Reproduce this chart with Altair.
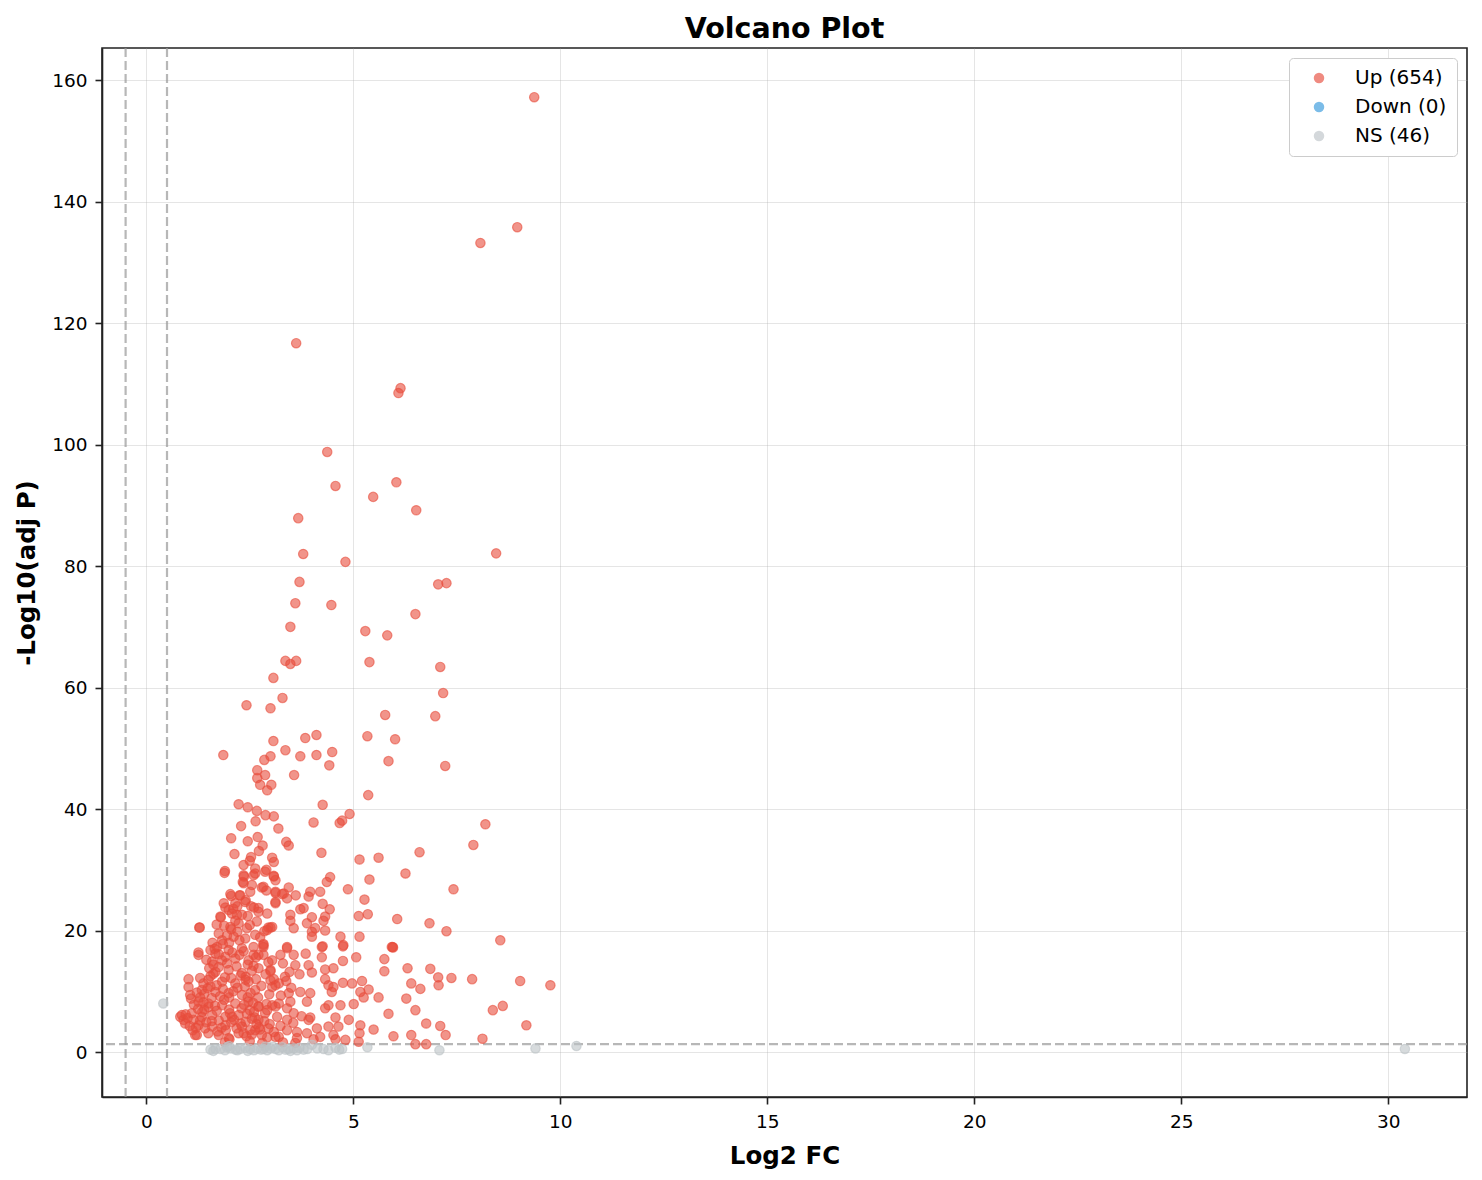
"""Volcano plot: log2 fold change against -log10 adjusted p-value."""

import altair as alt
import pandas as pd

# (log2 FC, -log10 adj P)
up_sparse = [
    (9.37, 157.2), (8.96, 135.8), (8.07, 133.2), (3.62, 116.7), (6.14, 109.3),
    (6.09, 108.5), (4.37, 98.8), (6.04, 93.8), (4.57, 93.2), (5.48, 91.4),
    (6.52, 89.2), (3.67, 87.9), (8.45, 82.1), (3.79, 82.0), (4.81, 80.7),
    (3.70, 77.4), (7.25, 77.2), (7.05, 77.0), (3.60, 73.9), (4.47, 73.6),
    (6.50, 72.1), (3.48, 70.0), (5.29, 69.3), (5.82, 68.6), (3.36, 64.4),
    (3.62, 64.4), (3.48, 63.9), (5.39, 64.2), (7.10, 63.4), (3.07, 61.6),
    (7.17, 59.1), (3.29, 58.3), (2.42, 57.1), (3.00, 56.6), (5.77, 55.5),
    (6.98, 55.3), (4.11, 52.2), (3.84, 51.7), (5.34, 52.0), (6.01, 51.5),
    (3.07, 51.2), (3.36, 49.7), (4.49, 49.4), (4.11, 48.9), (1.86, 48.9),
    (3.72, 48.7), (3.00, 48.7), (5.85, 47.9), (2.85, 48.1), (7.22, 47.1),
    (4.42, 47.2), (2.68, 46.4), (3.57, 45.6), (2.87, 45.6), (2.68, 45.1),
    (2.75, 44.0), (3.02, 44.0), (2.92, 43.1), (5.36, 42.3),
]

up_mid = [
    (2.23, 40.8), (2.45, 40.3), (2.67, 39.7), (2.88, 39.0), (3.08, 38.8),
    (4.26, 40.7), (4.91, 39.2), (4.73, 38.1), (4.67, 37.7), (4.04, 37.8),
    (2.29, 37.2), (2.64, 38.0), (3.19, 36.8), (8.19, 37.5), (2.05, 35.2),
    (2.45, 34.7), (2.69, 35.4), (2.81, 34.0), (2.72, 33.1), (3.38, 34.6),
    (3.44, 34.0), (7.90, 34.1), (4.23, 32.8), (6.60, 32.9), (5.15, 31.7),
    (5.61, 32.0), (2.13, 32.6), (2.53, 32.1), (2.50, 31.5), (3.04, 32.0),
    (3.08, 31.3), (1.90, 29.8), (2.35, 30.8), (2.63, 30.2), (2.36, 28.9),
    (2.33, 28.0), (2.59, 29.1), (2.90, 30.0), (3.08, 29.0), (3.12, 28.3),
    (4.36, 28.0), (4.44, 28.8), (5.39, 28.4), (6.26, 29.4), (4.87, 26.8),
    (7.42, 26.8), (2.79, 27.1), (2.90, 26.6), (3.44, 27.1), (3.61, 25.8),
    (3.12, 26.2), (3.28, 26.0), (3.96, 26.4), (3.92, 25.6), (4.20, 26.4),
    (5.27, 25.1), (2.05, 25.7), (2.25, 25.8), (1.91, 23.8), (2.20, 24.0),
    (2.40, 25.0), (2.53, 24.0), (2.71, 23.7), (3.12, 24.7), (3.40, 25.3),
    (3.80, 23.7), (3.72, 23.5), (4.26, 24.4), (4.43, 23.5), (2.92, 22.8),
    (1.80, 22.2), (3.48, 22.6), (3.48, 21.6), (4.00, 22.2), (4.32, 22.3),
    (4.28, 21.6), (5.13, 22.4), (5.35, 22.7), (6.06, 21.9), (6.84, 21.2),
    (7.25, 19.9), (8.55, 18.4), (1.29, 20.5), (2.95, 20.5), (3.04, 20.6),
    (3.56, 20.4), (3.88, 21.2), (4.08, 20.4), (4.00, 19.8), (4.32, 20.0),
    (4.69, 19.0), (5.15, 19.0), (4.76, 17.6), (4.24, 17.3), (4.00, 19.0),
    (5.93, 17.3), (3.40, 17.3), (2.83, 17.8), (5.96, 17.2), (1.89, 29.5),
    (2.35, 29.1), (2.63, 29.4), (2.87, 29.7), (3.08, 28.9), (2.35, 27.8),
    (2.55, 27.5), (2.83, 27.2), (3.12, 26.4), (3.32, 26.1), (2.03, 26.0),
    (2.27, 25.8), (2.51, 26.4), (3.12, 24.5), (1.87, 24.5), (2.15, 24.5),
    (2.39, 24.7), (2.71, 23.1), (1.99, 23.4), (2.19, 22.6),
]

up_low = [
    (1.79, 22.3), (2.07, 22.8), (2.31, 22.6), (2.23, 21.2), (2.03, 20.6),
    (2.43, 20.4), (2.67, 21.5), (1.28, 20.5), (3.00, 20.5), (2.92, 20.1),
    (1.83, 18.4), (2.11, 19.0), (2.39, 18.7), (2.63, 19.3), (1.71, 17.3),
    (1.99, 16.8), (2.31, 17.1), (2.59, 17.3), (2.83, 17.6), (1.26, 16.4),
    (1.67, 16.2), (1.91, 15.7), (2.71, 16.0), (4.26, 17.4), (4.75, 17.4),
    (5.95, 17.3), (4.24, 15.6), (4.75, 15.0), (5.07, 15.6), (5.75, 15.3),
    (5.75, 13.3), (3.92, 14.3), (4.00, 13.1), (4.32, 13.6), (4.52, 13.8),
    (3.00, 13.3), (3.40, 17.1), (3.56, 16.0), (3.60, 14.3), (3.24, 16.0),
    (3.46, 13.2), (2.83, 17.3), (2.83, 16.0), (2.59, 16.0), (2.59, 14.2),
    (6.31, 13.8), (6.86, 13.7), (7.05, 12.3), (7.37, 12.2), (7.87, 12.0),
    (9.03, 11.7), (9.76, 11.0), (6.40, 11.3), (7.06, 11.0), (6.62, 10.4),
    (6.28, 8.8), (6.50, 6.9), (8.37, 6.9), (8.61, 7.6), (6.76, 4.7),
    (7.10, 4.3), (7.23, 2.8), (9.18, 4.4), (5.97, 2.6), (6.40, 2.8),
    (8.12, 2.2), (6.50, 1.3), (6.76, 1.3), (1.26, 16.0), (1.59, 14.9),
    (1.83, 15.1), (2.15, 15.4), (2.47, 15.1), (2.71, 13.8), (3.04, 15.1),
    (3.00, 13.5), (1.67, 13.2), (1.99, 13.5), (2.31, 13.0), (1.50, 11.9),
    (1.83, 11.6), (2.15, 11.3), (2.47, 11.6), (1.02, 10.7), (1.34, 10.2),
    (1.06, 9.4), (1.67, 9.9), (1.99, 9.7), (2.31, 9.4), (2.63, 10.2),
    (3.04, 10.7), (3.20, 11.3), (1.38, 11.3), (3.08, 12.0), (3.38, 11.7),
    (3.12, 11.0), (4.32, 12.0), (4.40, 11.0), (4.52, 10.7), (4.48, 9.9),
    (4.75, 11.4), (4.97, 11.3), (5.21, 11.7), (5.17, 9.9), (5.37, 10.3),
    (5.61, 9.0), (5.25, 9.0), (5.01, 7.9), (4.69, 7.7), (4.40, 7.7),
    (4.32, 7.2), (3.96, 9.7), (3.72, 9.9), (3.88, 8.3), (3.44, 9.7),
    (3.48, 8.3), (3.20, 8.0), (3.40, 7.2), (3.56, 6.4), (3.12, 7.5),
    (2.92, 6.9), (2.71, 7.5), (5.85, 6.3), (5.49, 3.7), (5.17, 4.4),
    (5.15, 3.1), (4.81, 2.0), (5.13, 1.7), (4.89, 5.3), (4.57, 5.7),
    (4.64, 4.2), (4.40, 4.2), (4.12, 3.9), (3.92, 5.3), (3.96, 5.7),
    (4.52, 2.8), (4.57, 2.1), (4.20, 2.5), (4.04, 2.1), (3.88, 3.1),
    (3.64, 3.3), (3.64, 2.3), (3.40, 3.6), (3.40, 5.3), (3.24, 4.3),
    (3.20, 2.5), (2.92, 2.4), (2.75, 3.7), (2.71, 5.3), (2.51, 3.6),
    (2.35, 3.1), (2.01, 2.1), (2.07, 5.8), (2.43, 6.3), (1.22, 2.8),
    (0.82, 5.8), (0.90, 5.3), (1.14, 5.3), (1.26, 8.3), (1.50, 8.0),
    (1.83, 7.7), (2.15, 8.0), (2.47, 8.3), (2.71, 7.5), (3.04, 7.7),
    (0.86, 6.1), (1.10, 6.4), (1.34, 5.8), (1.59, 6.1), (1.91, 5.8),
    (2.23, 6.1), (2.55, 5.5), (2.87, 6.4), (3.16, 5.8), (0.94, 4.7),
    (1.26, 4.4), (1.59, 4.2), (1.91, 4.4), (2.31, 4.2), (2.63, 3.6),
    (2.95, 3.9), (1.18, 2.8), (1.50, 3.1), (1.75, 2.8), (1.99, 2.3),
    (2.23, 3.1), (2.55, 2.9), (2.79, 2.8), (3.12, 2.5), (1.60, 18.0),
    (1.75, 19.5), (2.00, 18.0), (2.20, 19.8), (2.50, 20.9), (2.25, 16.0),
    (1.55, 12.5), (1.75, 14.0), (2.05, 12.2), (2.40, 12.4), (2.65, 12.0),
    (1.40, 7.0), (1.70, 6.8), (2.00, 7.0), (2.30, 7.2), (2.60, 6.6),
    (1.30, 9.0), (1.55, 10.8), (1.85, 10.4), (2.10, 10.0), (2.45, 9.0),
    (1.45, 4.9), (1.75, 5.2), (2.05, 4.9), (2.40, 5.0), (1.00, 5.6),
]

up_dense = [
    (1.45, 15.2), (1.52, 13.8), (1.62, 12.9), (1.70, 11.0), (1.78, 9.2),
    (1.88, 8.6), (1.95, 14.6), (2.08, 16.4), (2.18, 14.1), (2.28, 12.6),
    (2.38, 10.8), (2.52, 9.7), (2.58, 8.1), (2.66, 4.6), (2.78, 10.9),
    (2.88, 12.8), (2.97, 9.5), (1.35, 6.6), (1.42, 3.9), (1.58, 5.1),
    (1.66, 7.6), (1.72, 3.4), (1.82, 4.0), (1.92, 3.6), (2.02, 6.4),
    (2.12, 5.3), (2.18, 3.9), (2.28, 4.7), (2.36, 7.8), (2.42, 2.6),
    (2.50, 6.9), (2.62, 5.7), (2.72, 4.1), (2.85, 5.1), (2.98, 4.6),
    (3.08, 3.3), (1.20, 4.0), (1.30, 5.2), (1.12, 3.6), (0.95, 6.2),
    (1.05, 4.3), (1.25, 7.1), (1.40, 9.6), (1.48, 10.5), (1.58, 8.9),
    (1.65, 17.0), (1.75, 16.1), (1.85, 17.8), (1.95, 19.2), (2.05, 20.2),
    (2.15, 21.6), (2.25, 18.4), (2.35, 16.6), (2.45, 14.4), (2.55, 13.4),
    (2.65, 15.6), (2.75, 18.9), (2.85, 19.9), (2.95, 14.8), (1.70, 21.0),
    (1.88, 20.8), (2.10, 23.6), (2.45, 22.4), (2.60, 23.8), (1.55, 16.8),
    (1.62, 14.4), (1.50, 7.4), (1.38, 8.2), (1.30, 12.2), (1.22, 9.8),
    (1.15, 7.8), (1.08, 8.8), (1.02, 12.0), (3.25, 9.3), (3.35, 12.4),
    (3.50, 10.6), (3.30, 14.6), (3.55, 4.8), (3.75, 5.9), (3.70, 12.8),
    (3.85, 16.2), (2.00, 9.0), (2.20, 10.6), (2.40, 11.9), (1.90, 12.3),
    (2.70, 9.0), (2.90, 7.9), (3.00, 11.8), (2.50, 1.8), (2.80, 1.5),
    (3.30, 1.6), (1.90, 1.6), (3.60, 1.5),
]

ns_points = [
    (0.41, 8.0), (30.4, 0.5), (7.08, 0.3), (9.40, 0.6), (10.39, 1.0),
    (1.55, 0.4), (1.62, 0.2), (1.67, 0.5), (1.79, 0.5), (1.90, 0.3),
    (1.95, 0.8), (2.00, 1.0), (2.03, 0.6), (2.15, 0.4), (2.20, 0.3),
    (2.27, 0.5), (2.39, 0.7), (2.45, 0.2), (2.51, 0.5), (2.60, 0.3),
    (2.68, 0.6), (2.77, 0.4), (2.83, 0.5), (2.88, 0.9), (2.92, 0.3),
    (3.00, 0.6), (3.05, 0.9), (3.12, 0.5), (3.20, 0.3), (3.29, 0.8),
    (3.36, 0.4), (3.43, 0.5), (3.48, 0.2), (3.56, 0.6), (3.64, 0.3),
    (3.70, 0.7), (3.80, 0.4), (3.89, 0.5), (4.00, 1.2), (4.13, 0.6),
    (4.28, 0.5), (4.40, 0.3), (4.57, 0.7), (4.66, 0.4), (4.73, 0.5),
    (5.34, 0.8),
]

groups = ["Up (654)", "Down (0)", "NS (46)"]
colours = ["#e74c3c", "#3498db", "#bdc3c7"]

x_ticks = [0, 5, 10, 15, 20, 25, 30]
y_ticks = [0, 20, 40, 60, 80, 100, 120, 140, 160]
fc_cut = [-0.5, 0.5]
p_cut = [1.301]

up = up_sparse + up_mid + up_low + up_dense
points = pd.DataFrame(
    [{"lfc": x, "nlp": y, "group": groups[0]} for x, y in up]
    + [{"lfc": x, "nlp": y, "group": groups[2]} for x, y in ns_points]
)

xscale = alt.Scale(domain=[-1.07, 31.9], nice=False, zero=False)
yscale = alt.Scale(domain=[-7.4, 165.3], nice=False, zero=False)
cscale = alt.Scale(domain=groups, range=colours)

# separate fill/stroke opacity so the edge overlaps the face, as matplotlib draws it
dots = alt.Chart(points).mark_circle(
    size=88, fillOpacity=0.6, strokeOpacity=0.6, strokeWidth=1.2
).encode(
    x=alt.X("lfc:Q", scale=xscale, title="Log2 FC",
            axis=alt.Axis(values=x_ticks, format="d")),
    y=alt.Y("nlp:Q", scale=yscale, title="-Log10(adj P)",
            axis=alt.Axis(values=y_ticks, format="d")),
    color=alt.Color(
        "group:N", scale=cscale,
        legend=alt.Legend(
            title=None, orient="top-right", offset=10, symbolType="circle",
            symbolSize=110, symbolOpacity=0.65, symbolStrokeWidth=0,
            labelFontSize=20, fillColor="white", strokeColor="#cccccc",
            cornerRadius=4, padding=10, rowPadding=9, symbolOffset=10,
            labelOffset=26, labelLimit=300,
        ),
    ),
    stroke=alt.Stroke("group:N", scale=cscale, legend=None),
)

dash = dict(color="#999999", strokeDash=[9, 4], strokeWidth=2.2, opacity=0.7)
vlines = alt.Chart(pd.DataFrame({"x": fc_cut})).mark_rule(**dash).encode(
    x=alt.X("x:Q", scale=xscale))
hline = alt.Chart(pd.DataFrame({"y": p_cut})).mark_rule(**dash).encode(
    y=alt.Y("y:Q", scale=yscale))

chart = (vlines + hline + dots).properties(
    width=1365, height=1049,
    title=alt.Title("Volcano Plot", fontSize=28.5, fontWeight="bold",
                    font="DejaVu Sans", color="black", offset=3),
    autosize=alt.AutoSizeParams(type="none"),
    padding={"left": 94, "top": 40, "right": 7, "bottom": 75},
).configure_view(
    stroke="#222222", strokeWidth=1.6
).configure_axis(
    labelFont="DejaVu Sans", labelFontSize=18.5, labelColor="black",
    titleFont="DejaVu Sans", titleFontSize=24.5, titleFontWeight="bold",
    titleColor="black", domainColor="#222222", domainWidth=1.6,
    tickColor="#222222", tickWidth=1.6, tickSize=7, labelPadding=8,
    grid=True, gridColor="#b0b0b0", gridOpacity=0.33,
).configure_axisY(
    titlePadding=12
).configure_axisX(
    titlePadding=14
).configure_legend(
    labelFont="DejaVu Sans", labelColor="black"
)

chart.save("out.html", embed_options={"renderer": "svg", "actions": False})
